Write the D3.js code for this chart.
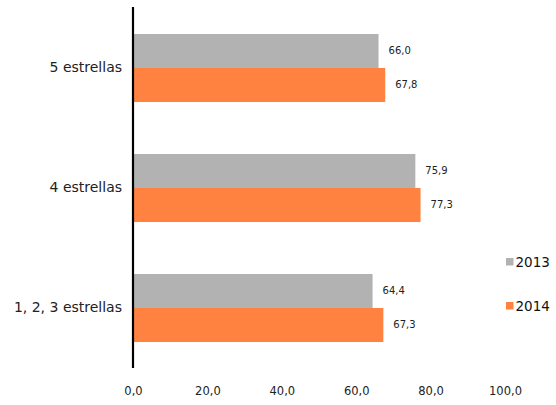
<!DOCTYPE html>
<html><head><meta charset="utf-8">
<script src="https://cdn.jsdelivr.net/npm/d3@7"></script>
<style>body{margin:0;background:#fff}svg{display:block}text{font-family:"DejaVu Sans",Verdana,sans-serif}</style>
</head><body>
<script>
const categories = ["5 estrellas", "4 estrellas", "1, 2, 3 estrellas"];
const series = ["2013", "2014"];
const values2013 = [66.0, 75.9, 64.4];
const values2014 = [67.8, 77.3, 67.3];
const tickValues = [0, 20, 40, 60, 80, 100];
const colors = ["#B2B2B2", "#FF8241"];

const W = 556, H = 405;
const svg = d3.select("body").append("svg").attr("width", W).attr("height", H);
const x = d3.scaleLinear().domain([0, 100]).range([133, 505]);
const y = d3.scaleBand().domain(categories).range([8, 368]).paddingInner(0.433).paddingOuter(0.2165);
const ys = d3.scaleBand().domain(series).range([0, y.bandwidth()]);
const data = categories.map((c, i) => ({c, vals: [values2013[i], values2014[i]]}));
const fmt = v => v.toFixed(1).replace(".", ",");

const g = svg.selectAll("g.cat").data(data).join("g").attr("transform", d => `translate(0,${y(d.c)})`);
series.forEach((s, si) => {
  g.append("rect").attr("x", x(0)).attr("y", ys(s)).attr("height", ys.bandwidth())
    .attr("width", d => x(d.vals[si]) - x(0)).attr("fill", colors[si]);
  g.append("text").attr("x", d => x(d.vals[si]) + 10).attr("y", ys(s) + ys.bandwidth() / 2)
    .attr("dy", "0.35em").attr("font-size", 10).attr("fill", "#222").text(d => fmt(d.vals[si]));
});

// category axis
const ay = svg.append("g").attr("transform", `translate(${x(0)},0)`)
  .call(d3.axisLeft(y).tickSize(0).tickPadding(11));
ay.select(".domain").remove();
ay.selectAll("text").attr("font-size", 14).attr("fill", "#222").style("font-family", '"DejaVu Sans",Verdana,sans-serif');
svg.append("line").attr("x1", x(0)).attr("x2", x(0)).attr("y1", 7).attr("y2", 368)
  .attr("stroke", "#000").attr("stroke-width", 2.2);

// value axis (labels only)
const ax = svg.append("g").attr("transform", `translate(0,384)`)
  .call(d3.axisBottom(x).tickValues(tickValues).tickSize(0).tickFormat(fmt));
ax.select(".domain").remove();
ax.selectAll("text").attr("font-size", 11.5).attr("fill", "#222").style("font-family", '"DejaVu Sans",Verdana,sans-serif');

// legend
const leg = svg.append("g").selectAll("g").data(series).join("g")
  .attr("transform", (d, i) => `translate(506,${262 + i * 44})`);
leg.append("rect").attr("x", 0).attr("y", -4).attr("width", 7.5).attr("height", 7.5).attr("fill", (d, i) => colors[i]);
leg.append("text").attr("x", 9.5).attr("y", 0).attr("dy", "0.38em").attr("font-size", 13.5).attr("fill", "#111").text(d => d);
</script>
</body></html>
